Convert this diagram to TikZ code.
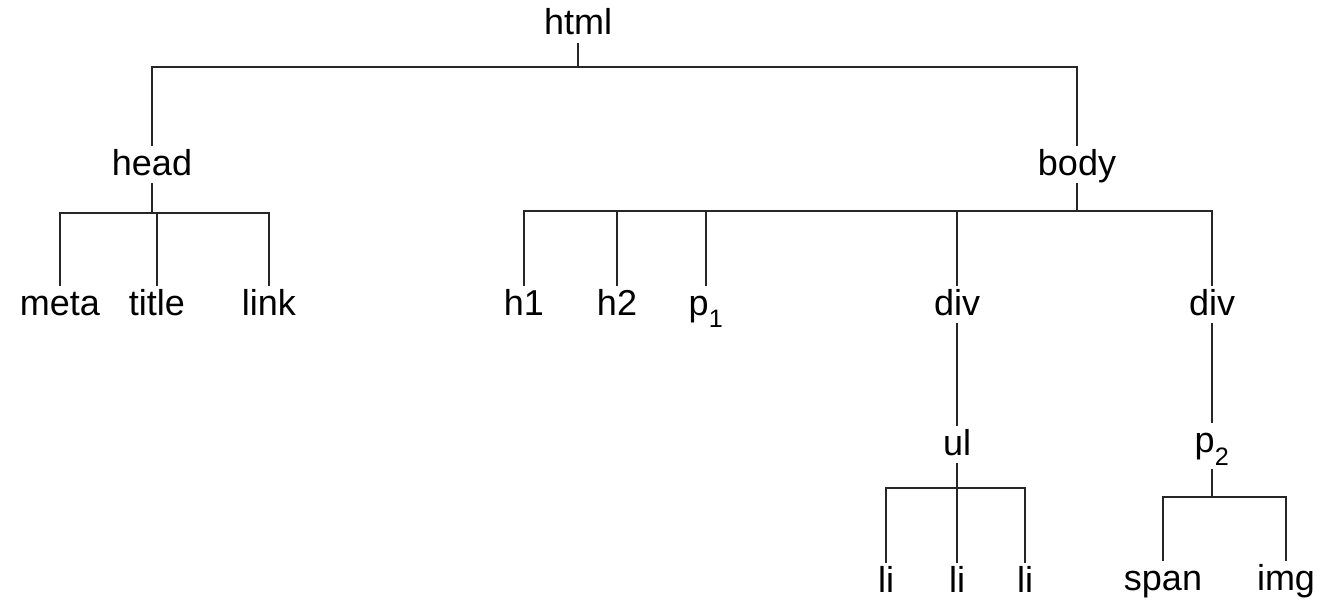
\documentclass[tikz,border=0pt]{standalone}
\usepackage{fontspec}
\setmainfont{Liberation Sans}
\usetikzlibrary{calc}

\begin{document}
\begin{tikzpicture}[x=1pt,y=-1pt,
    tag/.style={anchor=base,font=\fontsize{36}{40}\selectfont,
      text height=26pt,text depth=5pt,inner xsep=2pt,inner ysep=3pt},
    branch/.style={line width=2.9pt,black!85}]
      \useasboundingbox (0,0) rectangle (1323,602);
      % levels of the horizontal bars
      \coordinate (lvl0) at (0,67);
      \coordinate (lvl1) at (0,213);
      \coordinate (lvl2) at (0,211);
      \coordinate (lvl3) at (0,488);
      \coordinate (lvl4) at (0,497);
      % the tags
      \node[tag] (html) at (578,35) {html};
      \node[tag] (head) at (152,175) {head};
      \node[tag] (body) at (1077,175) {body};
      \node[tag] (meta) at (60,315) {meta};
      \node[tag] (title) at (157,315) {title};
      \node[tag] (link) at (269,315) {link};
      \node[tag] (h1) at (524,315) {h1};
      \node[tag] (h2) at (617,315) {h2};
      \node[tag] (p1) at (706,315) {p\raisebox{-4pt}{\textsubscript{1}}};
      \node[tag] (div1) at (957,315) {div};
      \node[tag] (div2) at (1212,315) {div};
      \node[tag] (ul) at (957,455) {ul};
      \node[tag,text depth=14pt] (p2) at (1212,452) {p\raisebox{-4pt}{\textsubscript{2}}};
      \node[tag] (li1) at (886,592) {li};
      \node[tag] (li2) at (957,592) {li};
      \node[tag] (li3) at (1025,592) {li};
      \node[tag] (span) at (1163,590) {span};
      \node[tag] (img) at (1286,590) {img};
      % the branches
      \foreach \kid in {head,body}
        \draw[branch] (html.south) -- (html.south |- lvl0) -| (\kid.north);
      \foreach \kid in {meta,title,link}
        \draw[branch] (head.south) -- (head.south |- lvl1) -| (\kid.north);
      \foreach \kid in {h1,h2,p1,div1,div2}
        \draw[branch] (body.south) -- (body.south |- lvl2) -| (\kid.north);
      \draw[branch] (div1.south) -- (ul.north);
      \draw[branch] (div2.south) -- (p2.north);
      \foreach \kid in {li1,li2,li3}
        \draw[branch] (ul.south) -- (ul.south |- lvl3) -| (\kid.north);
      \foreach \kid in {span,img}
        \draw[branch] (p2.south) -- (p2.south |- lvl4) -| (\kid.north);
    \end{tikzpicture}
\end{document}
